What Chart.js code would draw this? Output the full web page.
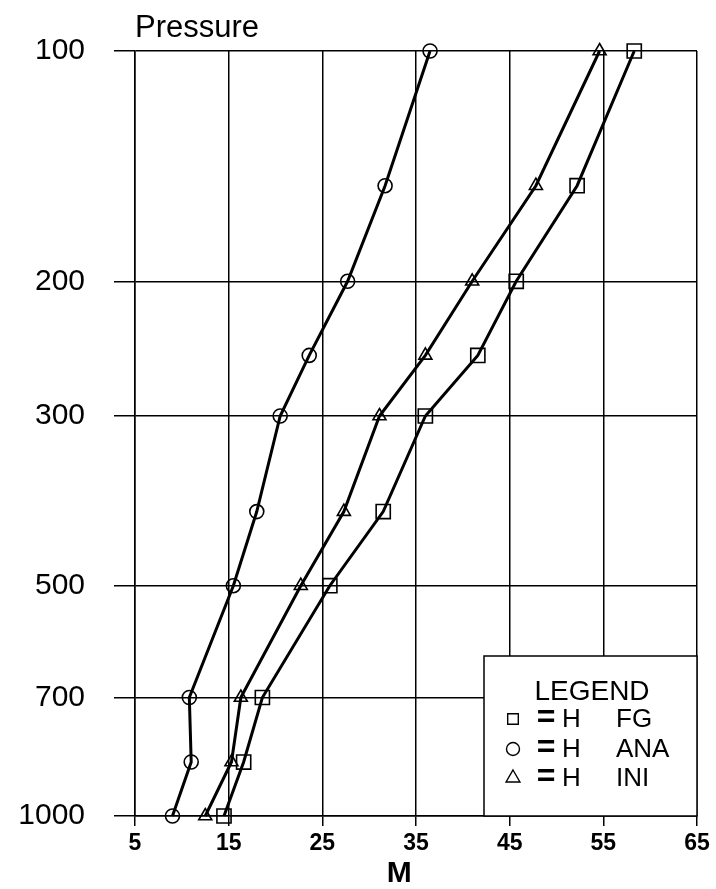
<!DOCTYPE html>
<html><head><meta charset="utf-8">
<style>html,body{margin:0;padding:0;background:#fff;} canvas{display:block;}</style>
<script src="https://cdn.jsdelivr.net/npm/chart.js@4.4.1/dist/chart.umd.min.js"></script>
</head><body>
<canvas id="c" width="716" height="889"></canvas>
<script>
// ---- data ----
const pressureLevels = [100, 150, 200, 250, 300, 400, 500, 700, 850, 1000];
const hFG  = [58.3, 52.2, 45.7, 41.6, 36.0, 31.5, 25.8, 18.6, 16.6, 14.5];
const hANA = [36.5, 31.7, 27.7, 23.6, 20.5, 18.0, 15.5, 10.8, 11.0, 9.0];
const hINI = [54.6, 47.8, 41.0, 36.0, 31.1, 27.3, 22.7, 16.3, 15.3, 12.5];
const yTickValues = [100, 200, 300, 500, 700, 1000];
const xTickValues = [5, 15, 25, 35, 45, 55, 65];
const seriesNames = ['FG', 'ANA', 'INI'];
const legendTitle = 'LEGEND';
const legendPrefix = 'H';
const yTitle = 'Pressure';
const xTitle = 'M';

const FONT = '"Liberation Sans", Arial, Helvetica, sans-serif';

function pts(vals) { return pressureLevels.map((p, i) => ({ x: vals[i], y: p })); }

const styles = [
  { pointStyle: 'rect', radius: 10, legendRadius: 7.5 },
  { pointStyle: 'circle', radius: 7, legendRadius: 6.5 },
  { pointStyle: 'triangle', radius: 7.5, legendRadius: 8 }
];
const seriesValues = [hFG, hANA, hINI];

const datasets = seriesNames.map((name, i) => ({
  label: name,
  data: pts(seriesValues[i]),
  showLine: true,
  clip: false,
  borderColor: '#000',
  borderWidth: 3,
  tension: 0,
  pointStyle: styles[i].pointStyle,
  pointRadius: styles[i].radius,
  pointBorderWidth: 1.6,
  pointBorderColor: '#000',
  pointBackgroundColor: 'rgba(0,0,0,0)'
}));

const overlay = {
  id: 'overlay',
  afterDraw(chart) {
    const ctx = chart.ctx;
    const a = chart.chartArea;
    ctx.save();
    ctx.fillStyle = '#000';
    ctx.font = '31px ' + FONT;
    ctx.textAlign = 'left';
    ctx.textBaseline = 'alphabetic';
    ctx.fillText(yTitle, a.left, 37);

    // legend box
    const bx = 484, by = 656, bw = a.right - bx, bh = a.bottom - by;
    ctx.fillStyle = '#fff';
    ctx.fillRect(bx, by, bw, bh);
    ctx.strokeStyle = '#000';
    ctx.lineWidth = 1.5;
    ctx.strokeRect(bx, by, bw, bh);

    ctx.fillStyle = '#000';
    ctx.font = '28px ' + FONT;
    ctx.textAlign = 'center';
    ctx.fillText(legendTitle, 592, 700);

    const baselines = [727, 757, 786];
    seriesNames.forEach((name, i) => {
      const b = baselines[i];
      ctx.save();
      ctx.fillStyle = 'rgba(0,0,0,0)';
      ctx.strokeStyle = '#000';
      ctx.lineWidth = 1.4;
      Chart.helpers.drawPoint(ctx, { pointStyle: styles[i].pointStyle, radius: styles[i].legendRadius, borderWidth: 1.4, rotation: 0 }, 513, b - 8);
      ctx.restore();
      ctx.fillStyle = '#000';
      ctx.textAlign = 'center';
      ctx.font = 'bold 32px ' + FONT;
      ctx.fillText('=', 546, b);
      ctx.textAlign = 'left';
      ctx.font = '26px ' + FONT;
      ctx.fillText(legendPrefix, 562, b);
      ctx.fillText(name, 616, b);
    });
    ctx.restore();
  }
};

new Chart(document.getElementById('c'), {
  type: 'scatter',
  data: { datasets },
  plugins: [overlay],
  options: {
    responsive: false,
    animation: false,
    devicePixelRatio: 1,
    layout: { padding: { left: 0, right: 19, top: 51, bottom: 0 } },
    plugins: { legend: { display: false }, tooltip: { enabled: false } },
    scales: {
      x: {
        type: 'linear',
        position: 'bottom',
        min: 5, max: 65,
        afterBuildTicks: s => { s.ticks = xTickValues.map(v => ({ value: v })); },
        afterFit: s => { s.height = 73; },
        grid: { color: '#000', lineWidth: 1.5, tickLength: 10, drawTicks: true },
        border: { display: true, color: '#000', width: 1.5 },
        ticks: { color: '#000', font: { family: FONT, size: 23, weight: 'bold' }, padding: 4, maxRotation: 0, autoSkip: false, callback: v => String(v) },
        title: { display: true, text: xTitle + '    ', color: '#000', font: { family: FONT, size: 30, weight: 'bold', lineHeight: 1.0 }, padding: { top: 0, bottom: 0 } }
      },
      y: {
        type: 'logarithmic',
        position: 'left',
        reverse: true,
        min: 100, max: 1000,
        afterBuildTicks: s => { s.ticks = yTickValues.map(v => ({ value: v })); },
        afterFit: s => { s.width = 135; },
        grid: { color: '#000', lineWidth: 1.5, tickLength: 21, drawTicks: true },
        border: { display: true, color: '#000', width: 1.5 },
        ticks: { color: '#000', font: { family: FONT, size: 30 }, padding: 29, autoSkip: false, callback: v => String(v) }
      }
    }
  }
});
</script>
</body></html>
